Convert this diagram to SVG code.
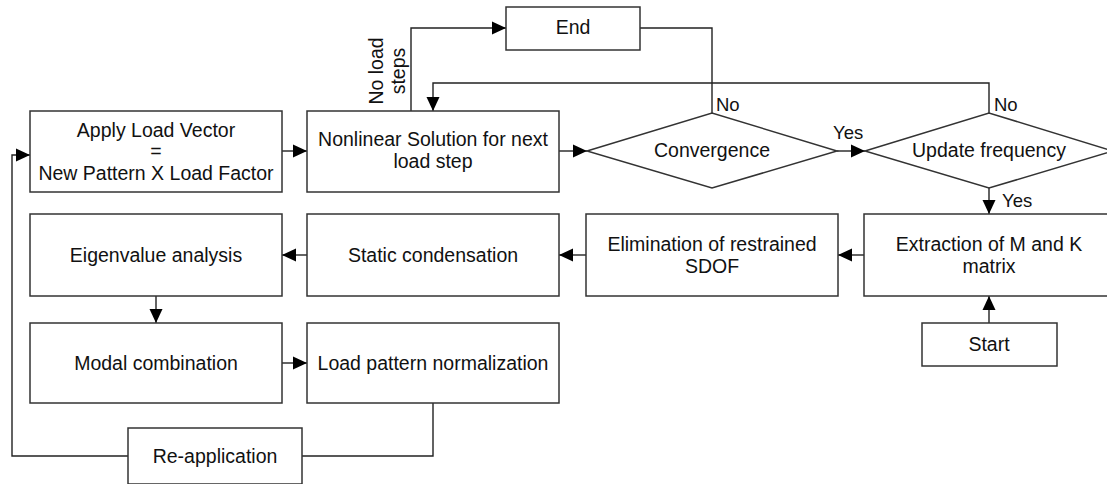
<svg xmlns="http://www.w3.org/2000/svg" width="1107" height="484" viewBox="0 0 1107 484">
<style>
.box{fill:#fff;stroke:#333;stroke-width:1.5}
.t{font-family:"Liberation Sans",Arial,sans-serif;font-size:19.5px;fill:#111;text-anchor:middle}
.l{font-family:"Liberation Sans",Arial,sans-serif;font-size:18.5px;fill:#111}
.c{fill:none;stroke:#222;stroke-width:1.4}
</style>
<defs>
<marker id="ah" markerWidth="14" markerHeight="14" refX="14" refY="7" orient="auto" markerUnits="userSpaceOnUse">
<path d="M0,0.5 L14,7 L0,13.5 Z" fill="#000"/>
</marker>
</defs>
<rect width="1107" height="484" fill="#fff"/>
<g id="connectors">
<path class="c" d="M282,151 H307" marker-end="url(#ah)"/>
<path class="c" d="M559,151 H587" marker-end="url(#ah)"/>
<path class="c" d="M837,151 H865" marker-end="url(#ah)"/>
<path class="c" d="M989,188 V214" marker-end="url(#ah)"/>
<path class="c" d="M989,323 V296" marker-end="url(#ah)"/>
<path class="c" d="M864,255 H838" marker-end="url(#ah)"/>
<path class="c" d="M586,255 H559" marker-end="url(#ah)"/>
<path class="c" d="M307,255 H282" marker-end="url(#ah)"/>
<path class="c" d="M156,296 V323" marker-end="url(#ah)"/>
<path class="c" d="M282,363 H307" marker-end="url(#ah)"/>
<path class="c" d="M433,403 V456 H302"/>
<path class="c" d="M128,456 H12 V155 H30" marker-end="url(#ah)"/>
<path class="c" d="M411,111 V28 H506" marker-end="url(#ah)"/>
<path class="c" d="M640,28 H712 V113"/>
<path class="c" d="M989,113 V83 H433 V111" marker-end="url(#ah)"/>
<text class="t" transform="translate(383,71) rotate(-90)">No load</text>
<text class="t" transform="translate(405,71) rotate(-90)">steps</text>
<text class="l" x="716" y="111">No</text>
<text class="l" x="994" y="111">No</text>
<text class="l" x="833" y="139">Yes</text>
<text class="l" x="1002" y="207">Yes</text>
</g>
<g id="apply">
<rect class="box" x="30" y="111" width="252" height="81"/>
<text class="t" x="156" y="137">Apply Load Vector</text>
<text class="t" x="156" y="158">=</text>
<text class="t" x="156" y="180">New Pattern X Load Factor</text>
</g>
<g id="nonlinear">
<rect class="box" x="307" y="111" width="252" height="81"/>
<text class="t" x="433" y="146">Nonlinear Solution for next</text>
<text class="t" x="433" y="168">load step</text>
</g>
<g id="end">
<rect class="box" x="506" y="7" width="134" height="43"/>
<text class="t" x="573" y="34">End</text>
</g>
<g id="convergence">
<path class="box" d="M587,151 L712,113 L837,151 L712,188 Z"/>
<text class="t" x="712" y="157">Convergence</text>
</g>
<g id="update">
<path class="box" d="M865,151 L989,113 L1113,151 L989,188 Z"/>
<text class="t" x="989" y="157">Update frequency</text>
</g>
<g id="extraction">
<rect class="box" x="864" y="214" width="260" height="82"/>
<text class="t" x="989" y="251">Extraction of M and K</text>
<text class="t" x="989" y="273">matrix</text>
</g>
<g id="elimination">
<rect class="box" x="586" y="214" width="252" height="82"/>
<text class="t" x="712" y="251">Elimination of restrained</text>
<text class="t" x="712" y="273">SDOF</text>
</g>
<g id="static">
<rect class="box" x="307" y="214" width="252" height="82"/>
<text class="t" x="433" y="262">Static condensation</text>
</g>
<g id="eigen">
<rect class="box" x="30" y="214" width="252" height="82"/>
<text class="t" x="156" y="262">Eigenvalue analysis</text>
</g>
<g id="modal">
<rect class="box" x="30" y="323" width="252" height="80"/>
<text class="t" x="156" y="370">Modal combination</text>
</g>
<g id="loadpattern">
<rect class="box" x="307" y="323" width="252" height="80"/>
<text class="t" x="433" y="370">Load pattern normalization</text>
</g>
<g id="reapplication">
<rect class="box" x="128" y="428" width="174" height="56"/>
<text class="t" x="215" y="463">Re-application</text>
</g>
<g id="start">
<rect class="box" x="922" y="323" width="135" height="43"/>
<text class="t" x="989" y="351">Start</text>
</g>
</svg>
